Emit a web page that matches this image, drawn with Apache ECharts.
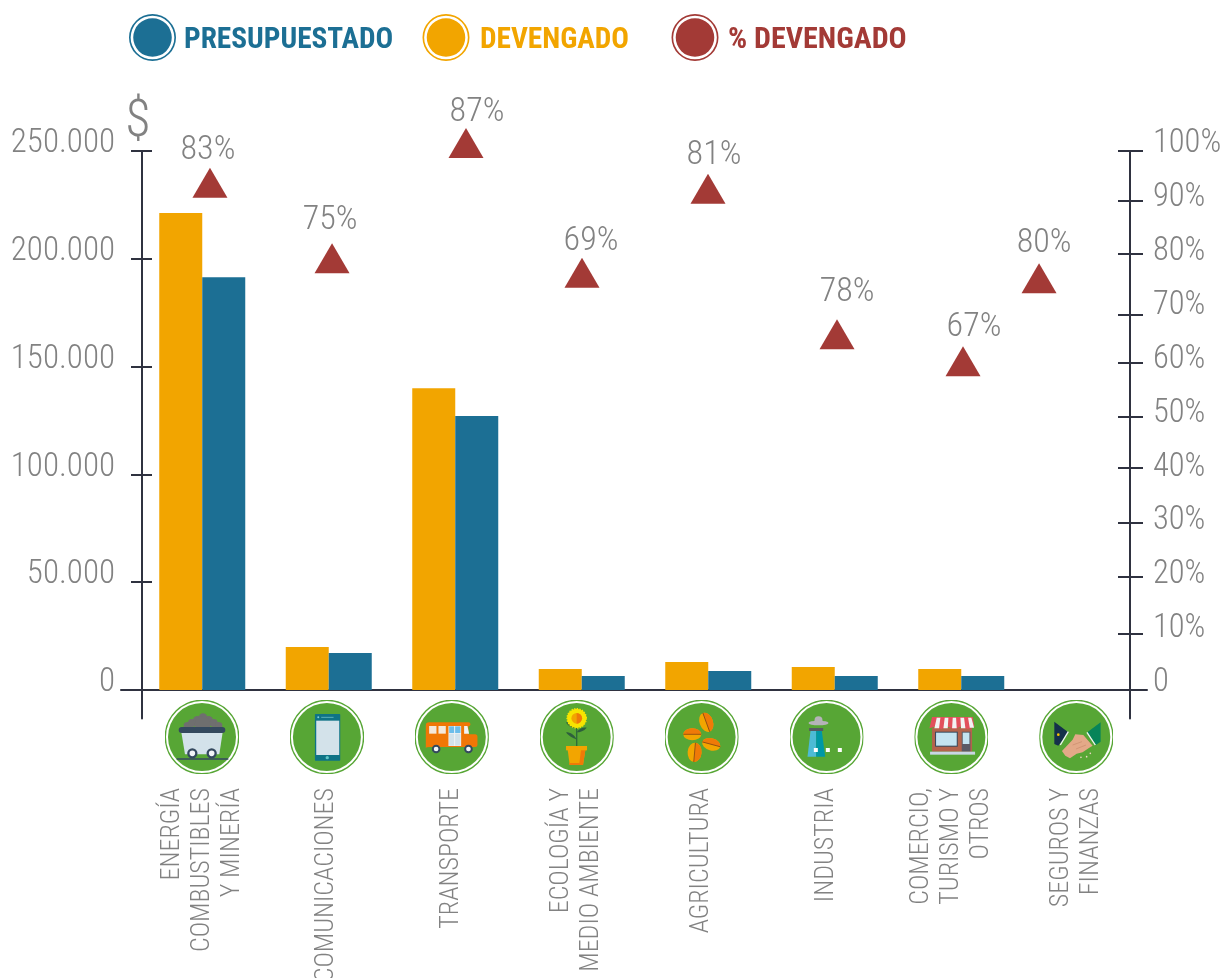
<!DOCTYPE html>
<html>
<head>
<meta charset="utf-8">
<style>html,body{margin:0;padding:0;background:#fff;overflow:hidden}#c{width:1221px;height:978px}</style>
<script src="https://cdn.jsdelivr.net/npm/echarts@6/dist/echarts.min.js"></script>
</head>
<body>
<div id="c"></div>
<script>
// ---- data ----
const categories = ['ENERGÍA\nCOMBUSTIBLES\nY MINERÍA','COMUNICACIONES','TRANSPORTE','ECOLOGÍA Y\nMEDIO AMBIENTE','AGRICULTURA','INDUSTRIA','COMERCIO,\nTURISMO Y\nOTROS','SEGUROS Y\nFINANZAS'];
const orangeValues = [221200,19900,140000,9700,13000,10700,9700,0];
const blueValues   = [191500,17200,127100,6500,8800,6500,6500,0];
const pctLabels    = ['83%','75%','87%','69%','81%','78%','67%','80%'];
// where each triangle sits, read on the right axis and in category-band units
const triangleHeights = [94.1,80.1,101.5,77.4,93,66,61,76.4];
const trianglePlaces  = [0.561,1.526,2.585,3.502,4.498,5.518,6.514,7.115];
const pctNudges = [[-2,-32],[-2,-38],[11,-30],[9,-31],[6,-33],[10,-42],[11,-34],[5,-35]];
// the right axis ticks are drawn unevenly in the original
const rightTickPlaces = [0,10.4,21,31,41.2,50.7,60.7,69.6,80.9,90.8,100];
const legendNames = ['PRESUPUESTADO','DEVENGADO','% DEVENGADO'];

// ---- style ----
const FONT = '"Roboto Condensed","Roboto",sans-serif';
const GREY = '#828282', AXIS = '#2f3240';
const ORANGE = '#f2a500', BLUE = '#1c6f94', RED = '#a33a36';
const RING = 'path://M50,0A50,50 0 1,1 50,100A50,50 0 1,1 50,0ZM50,3.5A46.5,46.5 0 1,0 50,96.5A46.5,46.5 0 1,0 50,3.5ZM50,9A41,41 0 1,1 50,91A41,41 0 1,1 50,9Z';

function disc(cx){ // viewBox follows the crop the drawing was measured in
  return '<circle cx="'+cx+'" cy="126" r="110" fill="#fff" stroke="#57a635" stroke-width="4"/><circle cx="'+cx+'" cy="126" r="102" fill="#57a635"/>';
}
function svg(x0, body){
  const s = '<svg xmlns="http://www.w3.org/2000/svg" width="222" height="222" viewBox="'+x0+' 15 222 222">'+body+'</svg>';
  return 'image://data:image/svg+xml;charset=utf-8,'+encodeURIComponent(s);
}
const seed = (cx,cy,rx,ry,rot)=>'<g transform="rotate('+rot+' '+cx+' '+cy+')"><ellipse cx="'+cx+'" cy="'+cy+'" rx="'+rx+'" ry="'+ry+'" fill="#f2a500"/><path d="M'+cx+' '+(cy-ry)+'A'+rx+' '+ry+' 0 0 1 '+cx+' '+(cy+ry)+'Z" fill="#ef7a08"/><path d="M'+cx+' '+(cy-ry)+'V'+(cy+ry)+'" stroke="#8a4a12" stroke-width="2.5"/></g>';
const coal = [[82,92,11],[96,84,12],[112,76,13],[129,68,13],[146,76,13],[161,84,12],[176,92,11],[128,88,24]].map(c=>'<circle cx="'+c[0]+'" cy="'+c[1]+'" r="'+c[2]+'" fill="#6f6f6f"/>').join('');
const icons = [
 svg(15, disc(126)+coal+'<path d="M64 112H188L178 178H75Z" fill="#d3e2ea"/><rect x="56" y="96" width="140" height="18" rx="9" fill="#34495e"/><path d="M50 192H205" stroke="#34495e" stroke-width="4"/><circle cx="97" cy="175" r="12" fill="#f2f5f7" stroke="#34495e" stroke-width="7"/><circle cx="155" cy="175" r="12" fill="#f2f5f7" stroke="#34495e" stroke-width="7"/>'),
 svg(389, disc(500)+'<rect x="464" y="57" width="76" height="140" rx="2" fill="#0e7386"/><rect x="468" y="77" width="69" height="103" fill="#d3e2ea"/><circle cx="474" cy="67" r="3" fill="#7fd0d6"/><path d="M483 67H520" stroke="#7fd0d6" stroke-width="2"/><circle cx="501" cy="188" r="5" fill="#5ec6c6"/>'),
 svg(764, disc(875)+'<path d="M797 160V92Q797 82 807 82H925Q931 82 931 88Q931 94 925 94V118H945Q952 118 952 126V150Q952 156 945 156H810Q797 156 797 160Z" fill="#f07706"/><rect x="807" y="93" width="22" height="23" fill="#f4e9dd"/><rect x="835" y="93" width="22" height="23" fill="#f4e9dd"/><rect x="865" y="93" width="38" height="60" fill="#f1f4f6"/><rect x="867" y="94" width="15" height="20" fill="#6cbdea"/><rect x="885" y="94" width="16" height="20" fill="#6cbdea"/><rect x="867" y="116" width="15" height="36" fill="#d3e2ea"/><rect x="885" y="116" width="16" height="36" fill="#d3e2ea"/><path d="M912 93H922L927 116H912Z" fill="#f1f4f6"/><circle cx="828" cy="162" r="10" fill="#f2f5f7" stroke="#34495e" stroke-width="6"/><circle cx="925" cy="162" r="10" fill="#f2f5f7" stroke="#34495e" stroke-width="6"/>'),
 svg(13, disc(124)+'<path d="M124 90V154" stroke="#2e6b3a" stroke-width="4"/><path d="M124 134C112 128 100 124 92 112C106 112 118 120 124 134Z" fill="#2e5f3c"/><path d="M124 112C134 112 146 108 154 98C142 96 130 102 124 112Z" fill="#2e5f3c"/><path d="M120 100C110 98 98 94 92 82C104 84 116 90 120 100Z" fill="#2e5f3c"/><circle cx="124" cy="70" r="29" fill="#f7e400" stroke="#f7e400" stroke-width="4" stroke-dasharray="4 4"/><circle cx="124" cy="70" r="25" fill="#f7e400"/><circle cx="124" cy="70" r="16" fill="#f2a500"/><path d="M124 54A16 16 0 0 1 124 86Z" fill="#ef7a08"/><path d="M97 165H150L143 210H103Z" fill="#f2a500"/><path d="M137 165H150L143 210H103L101 204H132Z" fill="#ef7a08"/><rect x="92" y="153" width="63" height="13" fill="#f2a500"/>'),
 svg(387, disc(498)+seed(512,82,20,30,-20)+seed(470,118,18,27,-90)+seed(527,148,18,28,-75)+seed(477,172,21,29,5)),
 svg(761, disc(872)+'<ellipse cx="848" cy="84" rx="30" ry="7" fill="#b5b3b8"/><circle cx="848" cy="76" r="12" fill="#b5b3b8"/><rect x="820" y="99" width="42" height="9" fill="#555a60"/><path d="M824 108H841V185H815Z" fill="#4dbbd5"/><path d="M841 108H858L868 185H841Z" fill="#0098a6"/><rect x="834" y="159" width="12" height="12" fill="#fff"/><rect x="870" y="159" width="12" height="12" fill="#fff"/><rect x="906" y="159" width="12" height="12" fill="#fff"/>'),
 svg(25, disc(136)+'<rect x="78" y="98" width="120" height="72" fill="#b4634c"/><rect x="87" y="110" width="68" height="45" fill="#34495e"/><rect x="90" y="113" width="62" height="39" fill="#c4e3f1"/><rect x="167" y="110" width="26" height="60" fill="#5b5a66"/><rect x="170" y="113" width="20" height="34" fill="#c4e3f1"/><path d="M78 66H200L205 95L185 102L165 95L145 102L125 95L105 102L85 95L70 100Z" fill="#e2505c"/><path d="M92 68H103L99 100H85ZM116 68H127L125 100H112ZM140 68H150L152 100H138ZM163 68H174L178 100H165ZM186 68H196L204 98H191Z" fill="#f3f3f3"/><rect x="72" y="170" width="135" height="9" fill="#c9d6e5"/>'),
 svg(400, disc(511)+'<path d="M445 80L487 112L457 152L445 147Z" fill="#14304a"/><path d="M487 110L463 150" stroke="#f2f5f7" stroke-width="4"/><circle cx="457" cy="119" r="4" fill="#f7c500"/><path d="M584 82V140L570 150L544 112Z" fill="#078459"/><path d="M543 112L568 150" stroke="#f2f5f7" stroke-width="4"/><path d="M468 168L500 134L508 118L532 120L560 152L550 158L530 172L512 176L492 190L478 182Z" fill="#e3a988"/><path d="M500 150L528 140M510 162L540 150" stroke="#c98b6b" stroke-width="2"/><circle cx="525" cy="187" r="2.5" fill="#f1d9c6"/><circle cx="542" cy="185" r="2.5" fill="#f1d9c6"/><circle cx="553" cy="175" r="2.5" fill="#f1d9c6"/>')
];

const chart = echarts.init(document.getElementById('c'), null, {renderer:'canvas'});
const bareAxis = {axisLine:{show:false},axisTick:{show:false},axisLabel:{show:false},splitLine:{show:false}};
const legendAt = (i,left,pad,color,size)=>({left,top:14,padding:0,itemWidth:47,itemHeight:47,selectedMode:false,
  data:[{name:legendNames[i],icon:RING}],
  formatter:n=>'{t|'+n+'}',
  textStyle:{rich:{t:{color,fontFamily:FONT,fontWeight:'bold',fontSize:size,padding:[6,0,0,pad]}}}});

chart.setOption({
  animation:false,
  backgroundColor:'#fff',
  legend:[legendAt(0,129,3,BLUE,29.3),legendAt(1,422.5,5.5,ORANGE,29.3),legendAt(2,671.5,4.5,RED,30)],
  grid:[
    {left:139,width:1012,top:151,height:539,outerBoundsMode:'none'},     // bars and triangles
    {left:139.55,width:999.2,top:151,height:539,outerBoundsMode:'none'}, // icons and category names
    {left:121,width:1026,top:151,height:567.5,outerBoundsMode:'none'}    // the long axis lines
  ],
  xAxis:[
    Object.assign({type:'category',gridIndex:0,data:categories},bareAxis),
    {type:'category',gridIndex:1,data:categories,axisLine:{show:false},axisTick:{show:false},splitLine:{show:false},
      axisLabel:{interval:0,rotate:90,margin:98,color:GREY,fontFamily:FONT,fontWeight:300,fontSize:26,lineHeight:30}},
    Object.assign({type:'value',gridIndex:0,min:0,max:8,position:'top'},bareAxis),
    {type:'value',gridIndex:2,min:0,max:1,axisTick:{show:false},axisLabel:{show:false},splitLine:{show:false},
      axisLine:{show:true,onZero:true,lineStyle:{color:AXIS,width:2}}}
  ],
  yAxis:[
    {type:'value',gridIndex:0,position:'left',offset:-3,min:0,max:250000,interval:50000,
      name:'$',nameLocation:'end',nameGap:2,
      nameTextStyle:{color:GREY,fontFamily:FONT,fontWeight:300,fontSize:52,padding:[0,8,0,0]},
      axisLine:{show:false},splitLine:{show:false},
      axisTick:{show:true,length:11,lineStyle:{color:AXIS,width:2}},
      axisLabel:{margin:27,color:GREY,fontFamily:FONT,fontWeight:300,fontSize:33,verticalAlign:'bottom',lineHeight:14,
        formatter:v=>String(v).replace(/\B(?=(\d{3})+$)/g,'.')}},
    {type:'value',gridIndex:0,position:'right',offset:-21,min:0,max:100,interval:10,
      axisLine:{show:false},splitLine:{show:false},
      axisTick:{show:true,length:13,customValues:rightTickPlaces,lineStyle:{color:AXIS,width:2}},
      axisLabel:{margin:23,color:GREY,fontFamily:FONT,fontWeight:300,fontSize:32.5,verticalAlign:'bottom',lineHeight:14,
        formatter:v=>v===0?'0':v+'%'}},
    {type:'value',gridIndex:0,position:'left',offset:-3,min:0,max:250000,interval:50000,
      axisLine:{show:false},splitLine:{show:false},axisLabel:{show:false},
      axisTick:{show:true,inside:true,length:10,lineStyle:{color:AXIS,width:2}}},
    {type:'value',gridIndex:0,position:'right',offset:-21,min:0,max:100,interval:10,
      axisLine:{show:false},splitLine:{show:false},axisLabel:{show:false},
      axisTick:{show:true,inside:true,length:12,customValues:rightTickPlaces,lineStyle:{color:AXIS,width:2}}},
    Object.assign({type:'value',gridIndex:1,min:0,max:539},bareAxis),
    {type:'value',gridIndex:2,position:'left',offset:-21,min:-28.5,max:539,
      axisTick:{show:false},axisLabel:{show:false},splitLine:{show:false},
      axisLine:{show:true,onZero:false,lineStyle:{color:AXIS,width:2}}},
    {type:'value',gridIndex:2,position:'right',offset:-17,min:-28.5,max:539,
      axisTick:{show:false},axisLabel:{show:false},splitLine:{show:false},
      axisLine:{show:true,onZero:false,lineStyle:{color:AXIS,width:2}}}
  ],
  series:[
    {name:legendNames[1],type:'bar',xAxisIndex:0,yAxisIndex:0,data:orangeValues,barWidth:43,barGap:'0%',itemStyle:{color:ORANGE}},
    {name:legendNames[0],type:'bar',xAxisIndex:0,yAxisIndex:0,data:blueValues,barWidth:43,barGap:'0%',itemStyle:{color:BLUE}},
    {name:legendNames[2],type:'scatter',xAxisIndex:2,yAxisIndex:1,clip:false,symbol:'triangle',symbolSize:[35,30],
      itemStyle:{color:RED,opacity:1},
      data:triangleHeights.map((h,i)=>({value:[trianglePlaces[i],h],
        label:{show:true,position:'inside',offset:pctNudges[i],formatter:pctLabels[i],color:GREY,fontFamily:FONT,fontWeight:300,fontSize:34}}))},
    {name:'iconos',type:'scatter',xAxisIndex:1,yAxisIndex:4,clip:false,silent:true,
      symbolSize:74,itemStyle:{opacity:1},
      data:categories.map((c,i)=>({value:[i,-47],symbol:icons[i]}))}
  ]
});
</script>
</body>
</html>
